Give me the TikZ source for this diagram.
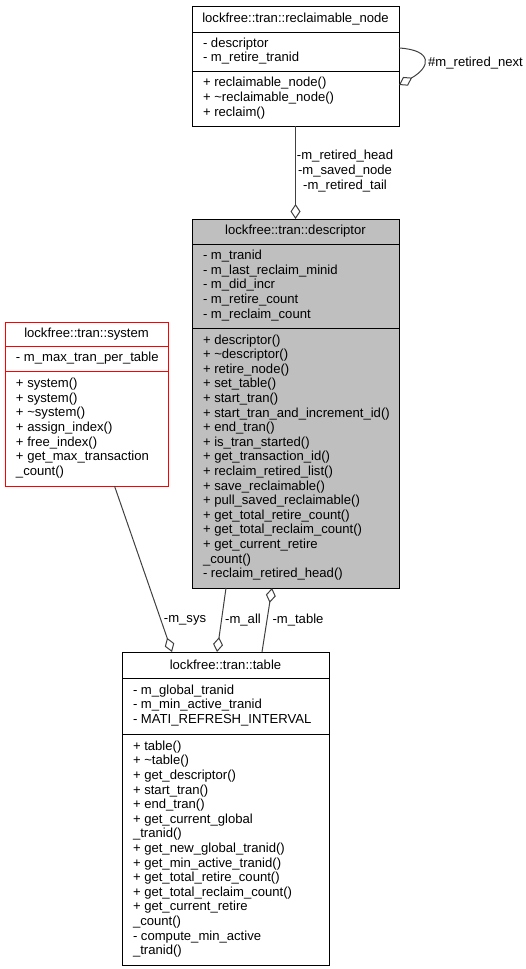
\documentclass[tikz,border=0pt]{standalone}
\usepackage{fontspec}
\setmainfont{Liberation Sans}
\usetikzlibrary{arrows.meta}
\definecolor{edgegray}{HTML}{404040}
\definecolor{descfill}{HTML}{BFBFBF}
\tikzset{
  umlfont/.style={font=\fontsize{13.1}{14.6}\selectfont},
  cls/.style={draw=black, line width=1pt, inner sep=0pt, outer sep=0pt,
    anchor=north west, umlfont},
  clstitle/.style={cls, align=center},
  members/.style={inner sep=0pt, outer sep=0pt, anchor=west, align=left, umlfont},
  agg/.style={draw=edgegray, line width=1pt,
    -{Diamond[open, length=15pt, width=10pt, line width=1pt]}},
  lbl/.style={inner sep=0pt, align=center, umlfont}
}
\begin{document}
\begin{tikzpicture}[x=1pt, y=-1pt]
\useasboundingbox (0,0) rectangle (526,969);

% lockfree::tran::reclaimable_node
\node[clstitle, minimum width=207pt, minimum height=26pt] (rn-t) at (192,6)
  {lockfree::tran::reclaimable\_node};
\node[cls, minimum width=207pt, minimum height=39pt] (rn-a) at (192,32) {};
\node[members] (rn-at) at ([xshift=11pt]rn-a.west)
  {\strut- descriptor\\- m\_retire\_tranid\strut};
\node[cls, minimum width=207pt, minimum height=55pt] (rn-m) at (192,71) {};
\node[members] (rn-mt) at ([xshift=11pt]rn-m.west)
  {\strut+ reclaimable\_node()\\+ \textasciitilde reclaimable\_node()\\+ reclaim()\strut};

% lockfree::tran::descriptor
\node[clstitle, fill=descfill, minimum width=207pt, minimum height=25pt] (de-t) at (192,219)
  {lockfree::tran::descriptor};
\node[cls, fill=descfill, minimum width=207pt, minimum height=84pt] (de-a) at (192,244) {};
\node[members] (de-at) at ([xshift=11pt]de-a.west)
  {\strut- m\_tranid\\- m\_last\_reclaim\_minid\\- m\_did\_incr\\- m\_retire\_count\\- m\_reclaim\_count\strut};
\node[cls, fill=descfill, minimum width=207pt, minimum height=260pt] (de-m) at (192,328) {};
\node[members] (de-mt) at ([xshift=11pt]de-m.west)
  {\strut+ descriptor()\\+ \textasciitilde descriptor()\\+ retire\_node()\\+ set\_table()\\+ start\_tran()\\
   + start\_tran\_and\_increment\_id()\\+ end\_tran()\\+ is\_tran\_started()\\+ get\_transaction\_id()\\
   + reclaim\_retired\_list()\\+ save\_reclaimable()\\+ pull\_saved\_reclaimable()\\+ get\_total\_retire\_count()\\
   + get\_total\_reclaim\_count()\\+ get\_current\_retire\\\_count()\\- reclaim\_retired\_head()\strut};

% lockfree::tran::system
\node[clstitle, draw=red, minimum width=163pt, minimum height=24pt] (sy-t) at (5,322)
  {lockfree::tran::system};
\node[cls, draw=red, minimum width=163pt, minimum height=25pt] (sy-a) at (5,346) {};
\node[members] (sy-at) at ([xshift=11pt]sy-a.west)
  {\strut- m\_max\_tran\_per\_table\strut};
\node[cls, draw=red, minimum width=163pt, minimum height=115pt] (sy-m) at (5,371) {};
\node[members] (sy-mt) at ([xshift=11pt]sy-m.west)
  {\strut+ system()\\+ system()\\+ \textasciitilde system()\\+ assign\_index()\\+ free\_index()\\
   + get\_max\_transaction\\\_count()\strut};

% lockfree::tran::table
\node[clstitle, minimum width=207pt, minimum height=26pt] (ta-t) at (122,652)
  {lockfree::tran::table};
\node[cls, minimum width=207pt, minimum height=56pt] (ta-a) at (122,678) {};
\node[members] (ta-at) at ([xshift=11pt]ta-a.west)
  {\strut- m\_global\_tranid\\- m\_min\_active\_tranid\\- MATI\_REFRESH\_INTERVAL\strut};
\node[cls, minimum width=207pt, minimum height=231pt] (ta-m) at (122,734) {};
\node[members] (ta-mt) at ([xshift=11pt]ta-m.west)
  {\strut+ table()\\+ \textasciitilde table()\\+ get\_descriptor()\\+ start\_tran()\\+ end\_tran()\\
   + get\_current\_global\\\_tranid()\\+ get\_new\_global\_tranid()\\+ get\_min\_active\_tranid()\\
   + get\_total\_retire\_count()\\+ get\_total\_reclaim\_count()\\+ get\_current\_retire\\\_count()\\
   - compute\_min\_active\\\_tranid()\strut};

% associations
\draw[agg] (rn-m.south) -- (de-t.north);
\node[lbl] (l-rn) at (345,171) {-m\_retired\_head\\-m\_saved\_node\\-m\_retired\_tail};

\draw[agg] ([yshift=3.5pt]rn-a.east) .. controls +(34,2) and +(32,-18) .. ([yshift=13.5pt]rn-m.east);
\node[lbl, anchor=west] (l-next) at (428,63) {\#m\_retired\_next};

\draw[agg] ([xshift=28pt]sy-m.south) -- ([xshift=-53.5pt]ta-t.north);
\node[lbl] (l-sys) at (185,620) {-m\_sys};

\draw[agg] ([xshift=-69.5pt]de-m.south) -- ([xshift=-8.5pt]ta-t.north);
\node[lbl] (l-all) at (243,620) {-m\_all};

\draw[agg] ([xshift=36.5pt]ta-t.north) -- ([xshift=-23.5pt]de-m.south);
\node[lbl] (l-tab) at (298,620) {-m\_table};
\end{tikzpicture}
\end{document}
